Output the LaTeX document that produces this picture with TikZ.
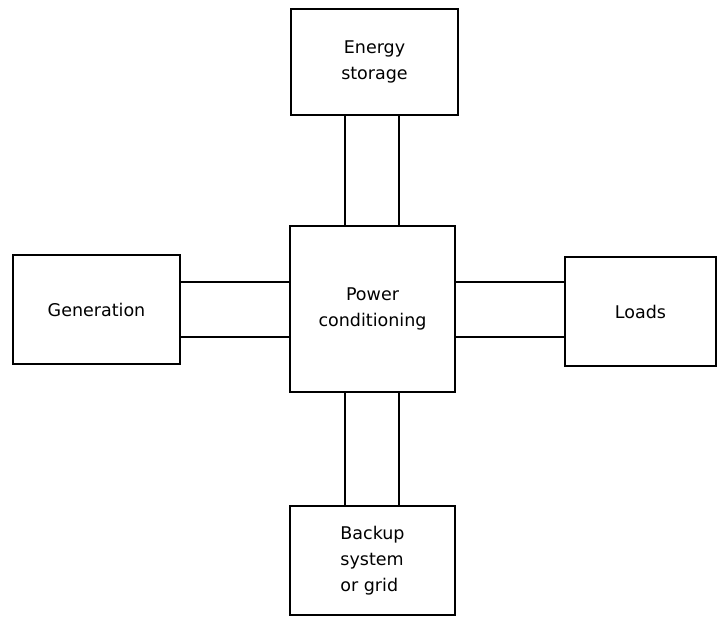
\documentclass[tikz,border=0pt]{standalone}
\usepackage{fontspec}
\setmainfont{DejaVu Sans}
\usetikzlibrary{positioning}

\tikzset{
  unit/.style={draw, line width=1.3pt, align=center, inner sep=0pt,
    font=\fontsize{17.5}{26}\selectfont},
  link/.style={line width=1.3pt},
}

\begin{document}
\begin{tikzpicture}[x=1pt,y=-1pt]
    \useasboundingbox (0,0) rectangle (718,617);
    % blocks
    \node[unit, minimum width=165pt, minimum height=166pt] (cond) at (372.5,309) {Power\\conditioning};
    \node[unit, minimum width=167pt, minimum height=106pt] (store) at (374.5,62) {Energy\\storage};
    \node[unit, minimum width=167pt, minimum height=109pt] (gen) at (96.5,309.5) {Generation};
    \node[unit, minimum width=151pt, minimum height=109pt] (loads) at (640.5,311.5) {Loads};
    \node[unit, minimum width=165pt, minimum height=109pt, align=left] (backup) at (372.5,560.5) {Backup\\system\\or grid};
    % double links
    \foreach \d in {-27.5,26.5} {
      \draw[link] ([xshift=\d pt]cond.north) -- ([xshift=\d pt]cond.north |- store.south);
      \draw[link] ([xshift=\d pt]cond.south) -- ([xshift=\d pt]cond.south |- backup.north);
    }
    \foreach \d in {27,-28} {
      \draw[link] ([yshift=\d pt]cond.west) -- ([yshift=\d pt]cond.west -| gen.east);
      \draw[link] ([yshift=\d pt]cond.east) -- ([yshift=\d pt]cond.east -| loads.west);
    }
\end{tikzpicture}
\end{document}
